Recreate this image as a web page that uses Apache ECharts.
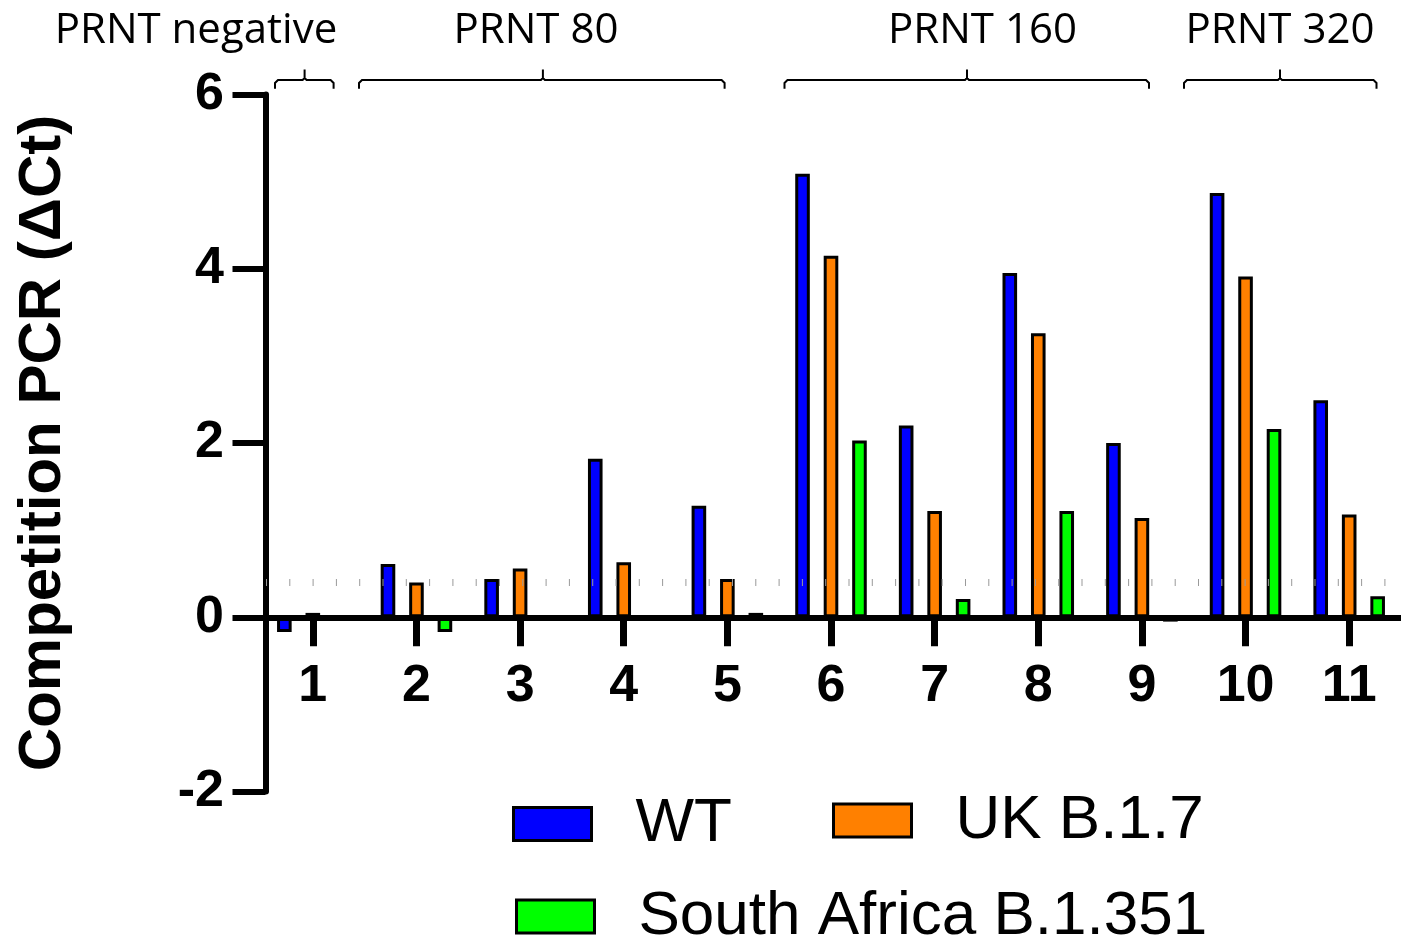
<!DOCTYPE html>
<html>
<head>
<meta charset="utf-8">
<script src="https://cdn.jsdelivr.net/npm/echarts@6/dist/echarts.min.js"></script>
<style>
  html, body { margin: 0; padding: 0; background: #fff; }
  #chart { width: 1401px; height: 940px; }
</style>
</head>
<body>
<div id="chart"></div>
<script>
// ---- data ----
const categories = ['1', '2', '3', '4', '5', '6', '7', '8', '9', '10', '11'];
const seriesNames = ['WT', 'UK B.1.7', 'South Africa B.1.351'];
const wtValues = [-0.17, 0.61, 0.44, 1.82, 1.28, 5.09, 2.20, 3.95, 2.00, 4.87, 2.49];
const ukValues = [0.05, 0.40, 0.56, 0.63, 0.44, 4.15, 1.22, 3.26, 1.14, 3.91, 1.18];
const saValues = [0, -0.17, 0, 0, 0.05, 2.03, 0.21, 1.22, -0.05, 2.16, 0.24];
const yMin = -2, yMax = 6, yStep = 2;
const thresholdValue = 0.4;
const groupLabels = ['PRNT negative', 'PRNT 80', 'PRNT 160', 'PRNT 320'];
const yTitle = 'Competition PCR (\u0394Ct)';

// ---- styling ----
const colors = ['#0000ff', '#ff8000', '#00ff00'];
const FONT = '"Liberation Sans", Arial, sans-serif';
const GRID_TOP = 94.5, GRID_H = 697;
const chart = echarts.init(document.getElementById('chart'), null, { renderer: 'canvas' });

function barSeries(name, values, color) {
  return {
    name: name,
    type: 'bar',
    data: values,
    barWidth: 14.6,
    barGap: '95%',
    z: 3,
    itemStyle: { color: color, borderColor: '#000', borderWidth: 3 },
    emphasis: { disabled: true }
  };
}

// bracket geometry (decoration above the plot)
const brackets = [
  { l: 275, r: 333.6, m: 304.6, tx: 196 },
  { l: 359, r: 724.6, m: 542.9, tx: 536 },
  { l: 784.5, r: 1149, m: 967, tx: 982.5 },
  { l: 1184, r: 1376.5, m: 1280, tx: 1280 }
];
const graphics = [];
brackets.forEach((b, i) => {
  const yh = 80, ye = 88.7, yt = 69.6;
  graphics.push({
    type: 'polyline',
    shape: { points: [[b.l, ye], [b.l, yh + 3], [b.l + 3, yh], [b.m - 2, yh], [b.m, yh - 2], [b.m, yt], [b.m, yh - 2], [b.m + 2, yh], [b.r - 3, yh], [b.r, yh + 3], [b.r, ye]] },
    style: { stroke: '#000', lineWidth: 2, fill: null }
  });
  graphics.push({
    type: 'text',
    style: {
      text: groupLabels[i], x: b.tx, y: 31,
      align: 'center', verticalAlign: 'middle',
      font: '42px "Open Sans", "Noto Sans", sans-serif', fill: '#000'
    }
  });
});

function legendFor(name, left, top) {
  return {
    data: [name],
    left: left, top: top,
    padding: 0,
    orient: 'horizontal',
    icon: 'rect',
    itemWidth: 78, itemHeight: 33,
    selectedMode: false,
    itemStyle: { borderColor: '#000', borderWidth: 3 },
    textStyle: { fontFamily: FONT, fontSize: 62, color: '#000', padding: [0, 0, 0, 39] }
  };
}

// place the category axis on the y = 0 line
const zeroOffset = -GRID_H * (0 - yMin) / (yMax - yMin);

const option = {
  animation: false,
  backgroundColor: '#fff',
  textStyle: { fontFamily: FONT },
  grid: { left: 261, width: 1145, top: GRID_TOP, height: GRID_H, containLabel: false },
  legend: [
    legendFor(seriesNames[0], 512, 793),
    legendFor(seriesNames[1], 832, 789.5),
    legendFor(seriesNames[2], 515, 885.5)
  ],
  xAxis: {
    type: 'category',
    data: categories,
    boundaryGap: true,
    position: 'bottom',
    offset: zeroOffset,
    z: 5,
    axisLine: { show: true, onZero: false, lineStyle: { color: '#000', width: 6 } },
    axisTick: { show: true, inside: false, alignWithLabel: true, interval: 0, length: 29, lineStyle: { color: '#000', width: 7 } },
    axisLabel: { color: '#000', fontSize: 52, fontWeight: 'bold', margin: 43, fontFamily: FONT, interval: 0 },
    splitLine: { show: false }
  },
  yAxis: {
    type: 'value',
    min: yMin, max: yMax, interval: yStep,
    offset: -4.5,
    name: yTitle,
    nameLocation: 'middle',
    nameRotate: 90,
    nameGap: 192,
    nameTextStyle: { color: '#000', fontSize: 60, fontWeight: 'bold', fontFamily: FONT },
    axisLine: { show: true, lineStyle: { color: '#000', width: 6 } },
    axisTick: { show: true, length: 33, lineStyle: { color: '#000', width: 6 } },
    axisLabel: { color: '#000', fontSize: 52, fontWeight: 'bold', margin: 41.5, fontFamily: FONT },
    splitLine: { show: false }
  },
  series: [
    {
      name: 'threshold',
      type: 'line',
      data: [],
      z: 1,
      silent: true,
      markLine: {
        silent: true,
        symbol: 'none',
        label: { show: false },
        lineStyle: { color: '#9a9a9a', width: 7, type: [1, 22.3], dashOffset: 18.3, cap: 'butt' },
        data: [{ yAxis: thresholdValue }]
      }
    },
    barSeries(seriesNames[0], wtValues, colors[0]),
    barSeries(seriesNames[1], ukValues, colors[1]),
    barSeries(seriesNames[2], saValues, colors[2])
  ],
  graphic: graphics
};
chart.setOption(option);
</script>
</body>
</html>
